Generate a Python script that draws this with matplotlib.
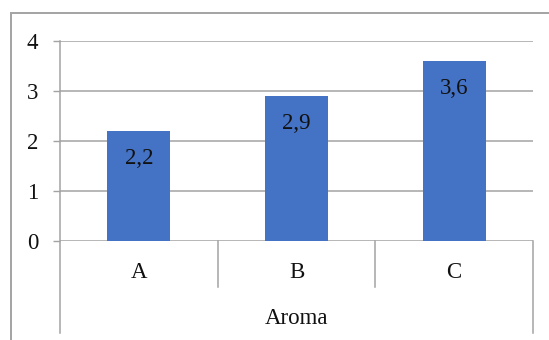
import matplotlib
matplotlib.use("Agg")
import matplotlib.pyplot as plt
from matplotlib.patches import Rectangle
from matplotlib.transforms import blended_transform_factory

categories = ["A", "B", "C"]
values = [2.2, 2.9, 3.6]
group_label = "Aroma"
y_ticks = [0, 1, 2, 3, 4]

BAR = "#4472C4"
GRID = "#A3A3A3"
TEXT = "#111111"
FONT = "Liberation Serif"
FS = 16.5

plt.rcParams["font.family"] = FONT

W, H = 549, 340
fig = plt.figure(figsize=(W / 100, H / 100), dpi=100)

# outer chart border (runs off the right and bottom edges)
fig.patches.append(Rectangle((11 / W, -0.2), 1.2, (H - 13) / H + 0.2,
                             transform=fig.transFigure, fill=False,
                             edgecolor=GRID, linewidth=1.4))

ax = fig.add_axes([60 / W, 99 / H, 473 / W, 200 / H])
ax.set_xlim(-0.5, len(categories) - 0.5)
ax.set_ylim(0, 4)

x = list(range(len(categories)))
ax.bar(x, values, width=0.4, color=BAR, zorder=3)

for xi, v in zip(x, values):
    ax.annotate(f"{v:.1f}".replace(".", ","), (xi, v), xytext=(0, -20),
                textcoords="offset points", ha="center", va="center",
                fontsize=FS, color=TEXT, zorder=4)

for s in ax.spines.values():
    s.set_visible(False)

ax.set_yticks(y_ticks)
ax.set_yticklabels([str(t) for t in y_ticks], fontsize=FS, color=TEXT)
ax.tick_params(axis="y", length=5, width=1, color=GRID, pad=10.5)
ax.set_xticks([])
ax.yaxis.grid(True, color=GRID, linewidth=1.1, zorder=0)

tr = blended_transform_factory(ax.transData, ax.transAxes)
# category separators below the axis
edges = [i - 0.5 for i in range(len(categories) + 1)]
for i, e in enumerate(edges):
    bottom = -0.46 if i in (0, len(edges) - 1) else -0.23
    ax.plot([e, e], [1.0 if i == 0 else 0, bottom], transform=tr,
            color=GRID, linewidth=1.1, clip_on=False, zorder=1)

for xi, c in zip(x, categories):
    ax.text(xi, -0.16, c, transform=tr, ha="center", va="center",
            fontsize=FS, color=TEXT)
ax.text((len(categories) - 1) / 2, -0.385, group_label, transform=tr,
        ha="center", va="center", fontsize=FS, color=TEXT)

fig.savefig("out.png", dpi=100)
